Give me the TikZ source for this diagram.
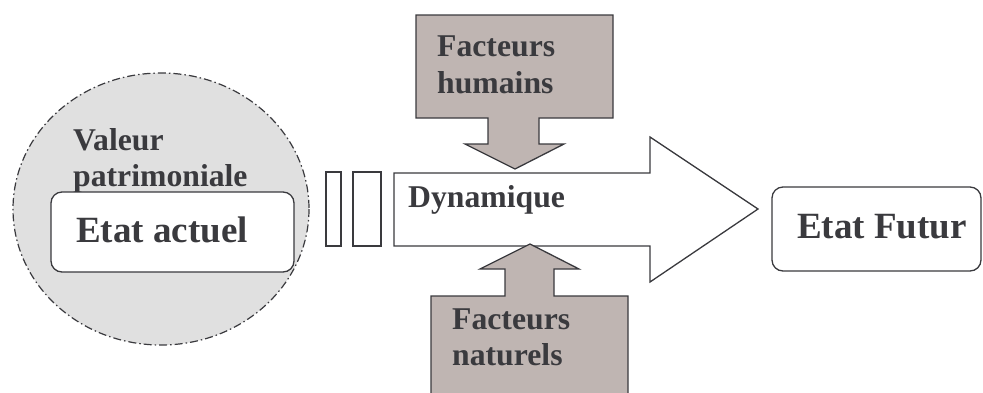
\documentclass[tikz,border=0pt]{standalone}
\usepackage{fontspec}
\setmainfont{Liberation Serif}
\definecolor{ink}{HTML}{3A3A3E}
\definecolor{factor}{HTML}{BFB5B2}
\definecolor{halo}{HTML}{E0E0E0}
\tikzset{
  shape line/.style={draw=ink, line width=1.3bp, line join=miter},
  roundbox/.style={shape line, fill=white, rounded corners=11bp},
  label text/.style={anchor=base west, inner sep=0pt, text=ink, font=\bfseries\fontsize{31.7bp}{36bp}\selectfont},
  big text/.style={anchor=base west, inner sep=0pt, text=ink, font=\bfseries\fontsize{37bp}{42bp}\selectfont},
}
\begin{document}
\begin{tikzpicture}[x=1bp, y=-1bp]
\useasboundingbox (0,0) rectangle (983,392);
\clip (0,0) rectangle (983,392);
% halo ellipse
\draw[draw=ink, line width=1.2bp, fill=halo, dash pattern=on 8bp off 3bp on 1.5bp off 3bp]
  (161,209) ellipse [x radius=148, y radius=136];
\node[label text] (val1) at (73,150) {Valeur};
\node[label text] (val2) at (73,186) {patrimoniale};
% Etat actuel
\draw[roundbox] (51,192) rectangle (294,272);
\node[big text] (actuel) at (76,242) {Etat actuel};
% small bars
\draw[shape line] (326,172) rectangle (341,246);
\draw[shape line] (353,172) rectangle (381,246);
% big arrow
\draw[shape line, fill=white] (394,173) -- (650,173) -- (650,137) -- (758,209) -- (650,282) -- (650,246) -- (394,246) -- cycle;
\node[label text] (dyn) at (408,207) {Dynamique};
% top factor
\draw[shape line, fill=factor] (416,15) -- (613,15) -- (613,118) -- (539,118) -- (539,144) -- (564,144) -- (515,169) -- (465,144) -- (488,144) -- (488,118) -- (416,118) -- cycle;
\node[label text] (fh1) at (437,56) {Facteurs};
\node[label text] (fh2) at (437,93) {humains};
% bottom factor
\draw[shape line, fill=factor] (431,410) -- (431,296) -- (505,296) -- (505,269) -- (480,269) -- (530,244) -- (579,269) -- (554,269) -- (554,296) -- (628,296) -- (628,410);
\node[label text] (fn1) at (452,329) {Facteurs};
\node[label text] (fn2) at (452,365) {naturels};
% Etat futur
\draw[roundbox] (772,187) rectangle (981,271);
\node[big text] (futur) at (797,238) {Etat Futur};
\end{tikzpicture}
\end{document}
